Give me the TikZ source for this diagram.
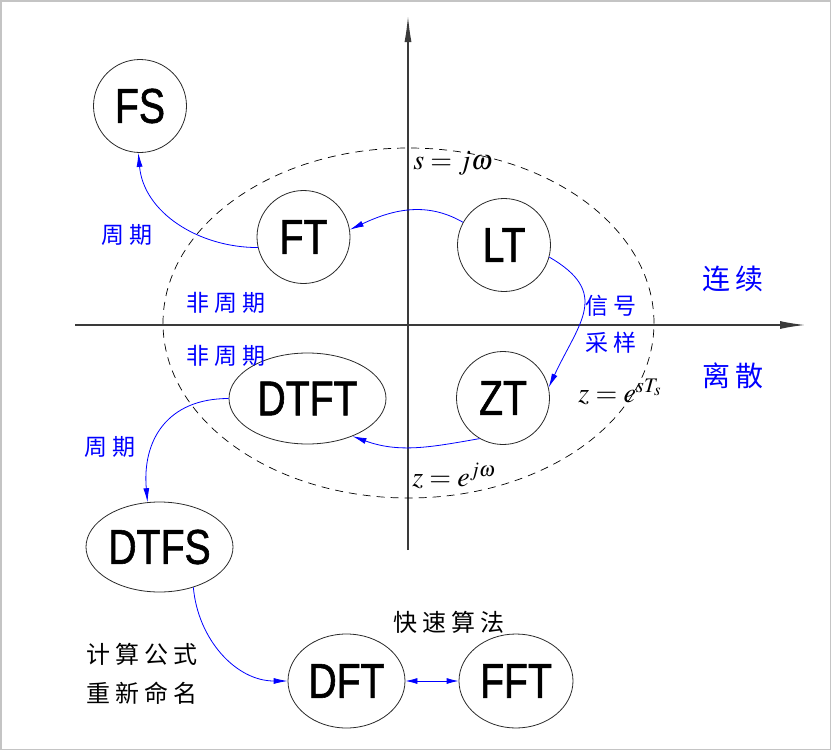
\documentclass[tikz,border=0pt]{standalone}
\usepackage{mathptmx}
\usepackage{fontspec}
\usetikzlibrary{arrows.meta,shapes.geometric}
\newfontfamily\nodefont[FakeStretch=0.8,FakeBold=1.2]{Liberation Sans}
\newfontfamily\cjk[LetterSpace=20]{Noto Sans CJK SC}

\begin{document}
\begin{tikzpicture}[x=1pt,y=1pt,>={Latex[length=14pt,width=6pt]},
    tf/.style={circle,draw=NodeLine,line width=0.8pt,minimum size=93pt,inner sep=0pt,
               font=\nodefont\fontsize{49}{49}\selectfont},
    tfe/.style={ellipse,draw=NodeLine,line width=0.8pt,inner sep=0pt,
               font=\nodefont\fontsize{49}{49}\selectfont},
    conv/.style={->,Flow,line width=0.8pt},
    note/.style={Flow,font=\cjk\fontsize{23}{23}\selectfont},
    side/.style={Flow,font=\cjk\fontsize{28}{28}\selectfont},
    remark/.style={black,font=\cjk\fontsize{24}{24}\selectfont},
    subst/.style={black,font=\fontsize{28}{28}\selectfont}]
  %--- Theme colors ---
  \definecolor{NodeLine}{HTML}{2A2A2A}    % circles and ellipses
  \definecolor{AxisLine}{HTML}{3A3A3A}    % axes
  \definecolor{Flow}{HTML}{0000FF}        % blue arrows and labels
  \definecolor{Frame}{HTML}{C4C4C4}       % picture frame

  %--- Frame ---
  \useasboundingbox (0,0) rectangle (831,-750);
  \draw[Frame,line width=1.5pt] (0.75,-0.75) rectangle (830.25,-749.25);

  %--- Axes and dashed boundary ---
  \draw[AxisLine,line width=1.2pt,-{Latex[length=26pt,width=7pt]}] (408,-550) -- (408,-16);
  \draw[AxisLine,line width=1.2pt,-{Latex[length=25pt,width=8pt]}] (75,-325) -- (805,-325);
  \draw[dashed,dash pattern=on 8pt off 6pt,line width=0.7pt] (408.5,-323) ellipse (245.5 and 175);

  %--- Transforms ---
  \node[tf] (FS) at (140,-106) {FS};
  \node[tf] (FT) at (303.5,-237) {FT};
  \node[tf] (LT) at (504,-245) {LT};
  \node[tf] (ZT) at (503,-398) {ZT};
  \node[tfe,minimum width=157pt,minimum height=91pt] (DTFT) at (307.5,-398.5) {DTFT};
  \node[tfe,minimum width=147pt,minimum height=90pt] (DTFS) at (159.5,-547) {DTFS};
  \node[tfe,minimum width=117pt,minimum height=94pt] (DFT) at (346.5,-681) {DFT};
  \node[tfe,minimum width=114pt,minimum height=94pt] (FFT) at (516,-681) {FFT};

  %--- Relations ---
  \draw[conv] (LT.151) to[out=150,in=25] (FT.9);
  \draw[conv] (FT.193) to[out=180,in=-85] (FS.-92);
  \draw[conv] (LT.-15) to[out=-30,in=65,looseness=1.4] (ZT.13);
  \draw[conv] (ZT.240) to[out=190,in=-20] (DTFT.-40);
  \draw[conv] (DTFT.west) to[out=180,in=95,looseness=1.2] (DTFS.105);
  \draw[conv] (DTFS.-50) to[out=-85,in=180] (DFT.west);
  \draw[<->,Flow,line width=0.8pt,>={Latex[length=12pt,width=6pt]}] (DFT.east) -- (FFT.west);

  %--- Labels ---
  \node[note] (periodFS) at (127,-235) {周期};
  \node[note] (aperCont) at (226,-303) {非周期};
  \node[note] (aperDisc) at (226,-356) {非周期};
  \node[note] (periodDTFS) at (110,-447) {周期};
  \node[note] (sample) at (611,-306) {信号};
  \node[note] (sampleB) at (611,-343) {采样};
  \node[side] (cont) at (733,-279) {连续};
  \node[side] (disc) at (733,-376) {离散};
  \node[remark] (fast) at (449,-622) {快速算法};
  \node[remark] (rename) at (142,-654) {计算公式};
  \node[remark] (renameB) at (142,-693) {重新命名};

  %--- Substitutions ---
  \node[subst] (sjw) at (453,-163) {$s=j\omega$};
  \node[subst] (zesT) at (620,-392) {$z=e^{sT_s}$};
  \node[subst] (zejw) at (454,-476) {$z=e^{j\omega}$};
\end{tikzpicture}
\end{document}
